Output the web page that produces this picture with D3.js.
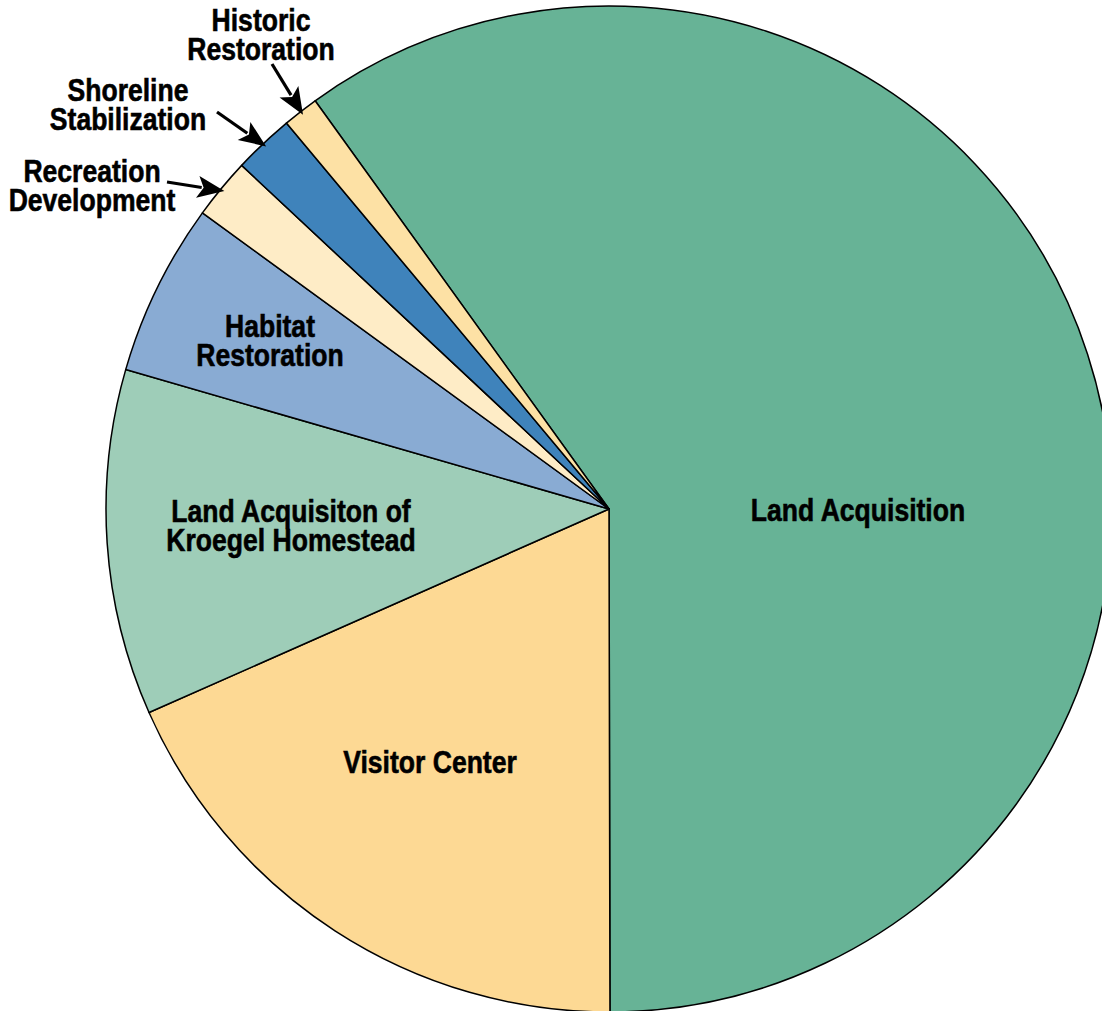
<!DOCTYPE html>
<html>
<head>
<meta charset="utf-8">
<script src="https://cdn.jsdelivr.net/npm/d3@7"></script>
<style>
  body { margin: 0; background: #fff; }
  svg { display: block; }
  text { font-family: "Liberation Sans", Arial, sans-serif; font-weight: bold; font-size: 32px; fill: #000; stroke: #000; stroke-width: 0.6px; }
</style>
</head>
<body>
<svg id="chart"></svg>
<script>
// slice data (percent of total)
const categories = ['Land Acquisition', 'Visitor Center', 'Land Acquisiton of Kroegel Homestead',
                    'Habitat Restoration', 'Recreation Development', 'Shoreline Stabilization', 'Historic Restoration'];
const values = [59.9, 18.4, 11.1, 5.55, 1.95, 1.95, 1.15];
const colors = ['#67b396', '#fdd994', '#9ecdb8', '#89abd3', '#feecc6', '#3f83bb', '#fde1a5'];
const labelLines = [['Land Acquisition'], ['Visitor Center'], ['Land Acquisiton of', 'Kroegel Homestead'],
                    ['Habitat', 'Restoration'], ['Recreation', 'Development'], ['Shoreline', 'Stabilization'],
                    ['Historic', 'Restoration']];
// labels placed by hand, relative to pie centre: [dx, dy of first baseline]
const labelPos = [[249, 12], [-179, 264], [-318, 13], [-339, -172], [-517, -327], [-481, -408], [-348, -478]];
// which labels sit outside and need an arrow, with the arrow tail relative to centre
const arrowTails = [null, null, null, null, [-442, -327], [-392, -397], [-337, -445]];

const width = 1102, height = 1011;
const cx = 609, cy = 509, radius = 503;
const lineHeight = 29;
const squeeze = 0.83; // condensed look

const svg = d3.select('#chart').attr('width', width).attr('height', height);
const g = svg.append('g').attr('transform', `translate(${cx},${cy})`);

const start = -35.75 * Math.PI / 180;
const pie = d3.pie().sort(null).value(d => d.value)
  .startAngle(start).endAngle(start + 2 * Math.PI);
const arcs = pie(categories.map((c, i) => ({ name: c, value: values[i], i })));

const arc = d3.arc().innerRadius(0).outerRadius(radius);

g.selectAll('path.slice')
  .data(arcs)
  .enter()
  .append('path')
  .attr('class', 'slice')
  .attr('d', arc)
  .attr('fill', d => colors[d.data.i])
  .attr('stroke', '#000')
  .attr('stroke-width', 1.5)
  .attr('stroke-linejoin', 'round');

// labels
arcs.forEach(d => {
  const i = d.data.i;
  const t = g.append('text')
    .attr('text-anchor', 'middle')
    .attr('transform', `translate(${labelPos[i][0]},${labelPos[i][1]}) scale(${squeeze},1)`);
  labelLines[i].forEach((line, k) => {
    t.append('tspan')
      .attr('x', 0)
      .attr('y', k * lineHeight)
      .text(line);
  });
});

// arrows for the thin slices
const headLen = 27, headW = 11;
arcs.forEach(d => {
  const tail = arrowTails[d.data.i];
  if (!tail) return;
  const mid = (d.startAngle + d.endAngle) / 2;
  const r = radius - 4;
  const tip = [r * Math.sin(mid), -r * Math.cos(mid)];
  const dx = tip[0] - tail[0], dy = tip[1] - tail[1];
  const len = Math.sqrt(dx * dx + dy * dy);
  const ux = dx / len, uy = dy / len;
  const base = [tip[0] - ux * headLen, tip[1] - uy * headLen];
  g.append('line')
    .attr('x1', tail[0]).attr('y1', tail[1])
    .attr('x2', base[0] + ux * 4).attr('y2', base[1] + uy * 4)
    .attr('stroke', '#000').attr('stroke-width', 3.2);
  g.append('path')
    .attr('d', d3.line()([
      tip,
      [base[0] - uy * headW, base[1] + ux * headW],
      [base[0] + ux * 6, base[1] + uy * 6],
      [base[0] + uy * headW, base[1] - ux * headW]
    ]) + 'Z')
    .attr('fill', '#000');
});
</script>
</body>
</html>
